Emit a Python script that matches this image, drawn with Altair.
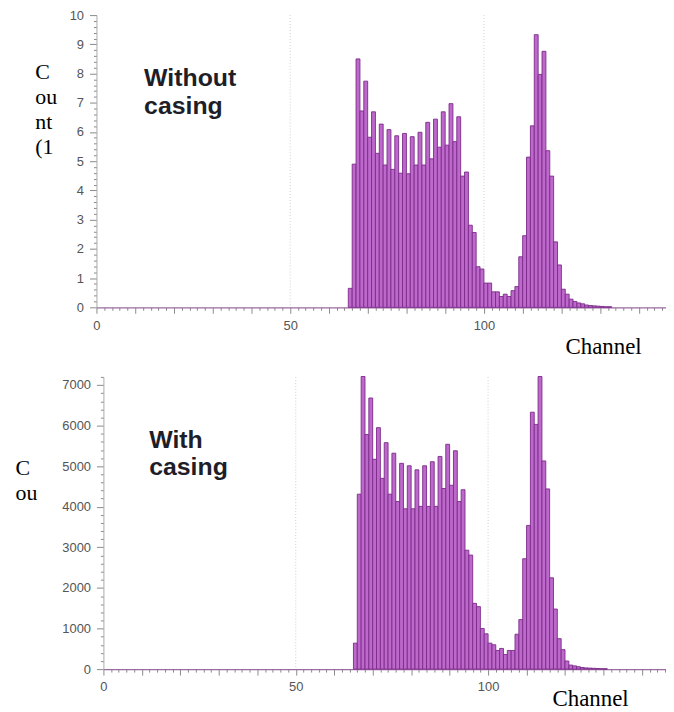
import altair as alt
import pandas as pd

# ---- data ----
top_start = 65
top_counts = [0.65, 4.9, 8.5, 6.72, 7.74, 5.82, 6.69, 5.27, 6.27, 4.87,
              6.08, 4.72, 5.87, 4.59, 5.95, 4.57, 5.84, 4.87, 5.99, 4.87,
              6.33, 5.08, 6.44, 5.48, 6.69, 5.55, 6.97, 5.67, 6.52, 4.49,
              4.63, 2.81, 2.56, 1.39, 1.31, 0.83, 0.83, 0.53, 0.53, 0.37,
              0.45, 0.37, 0.57, 0.71, 1.73, 2.45, 5.14, 6.21, 9.33, 7.97,
              8.76, 5.36, 4.49, 2.24, 1.45, 0.62, 0.45, 0.28, 0.2, 0.15,
              0.12, 0.08, 0.06, 0.05, 0.04, 0.03, 0.02, 0.02]

bottom_start = 65
bottom_counts = [640, 4310, 7210, 5780, 6680, 5170, 5950, 4700, 5580, 4310,
                 5320, 4130, 5070, 3950, 5010, 3950, 4910, 4010, 5010, 4010,
                 5110, 4010, 5240, 4450, 5540, 4530, 5380, 4130, 4420, 2930,
                 2810, 1620, 1540, 1000, 870, 640, 600, 460, 510, 360,
                 460, 460, 860, 1220, 2720, 3540, 6330, 6030, 7210, 5130,
                 4440, 2250, 1480, 750, 480, 200, 100, 80, 60, 40,
                 30, 25, 20, 15, 10, 10]

x_labels = [0, 50, 100]
grid_channels = [50, 100]
top_ylabel = ["C", "ou", "nt", "(1"]
bottom_ylabel = ["C", "ou"]
top_note = "Without\ncasing"
bottom_note = "With\ncasing"
xtitle = "Channel"

BAR_FILL = "#bd68cb"
BAR_STROKE = "#7c2a8a"
LABEL_FONT = "Liberation Sans"
SERIF = "Liberation Serif"


def panel(start, counts, ymax, ystep_minor, ymajor, ylabel_lines, ytitle_x,
          ytitle_y, note, note_x, note_y, xtitle_x, xtitle_y, shift, px_per_ch):
    df = pd.DataFrame({"channel": [start + i for i in range(len(counts))],
                       "count": counts})
    df["ch2"] = df["channel"] + 1
    width = 573
    height = 294
    xmax = (width - shift) / px_per_ch
    xscale = alt.Scale(domain=[0, xmax], range=[shift, width], nice=False, zero=False)
    yscale = alt.Scale(domain=[0, ymax], nice=False)
    n_minor = int(round(ymax / ystep_minor))
    yvals = [round(i * ystep_minor, 3) for i in range(n_minor + 1)]
    xvals = list(range(0, int(xmax) + 1, 2))
    is_major_y = f"abs(datum.value/{ymajor} - round(datum.value/{ymajor})) < 0.001"
    is_major_x = "datum.value % 10 === 0"
    lab_list = "[" + ",".join(str(v) for v in x_labels) + "]"

    x_axis = alt.Axis(
        values=xvals,
        labelExpr=f"indexof({lab_list}, datum.value) >= 0 ? format(datum.value, 'd') : ''",
        tickSize={"condition": {"test": is_major_x, "value": 6}, "value": 3},
        tickColor="#8a8a8a", domainColor="#9a6aa0", domainWidth=1.2,
        labelFont=LABEL_FONT, labelFontSize=13, labelColor="#555555",
        labelPadding=6, labelOverlap=False, labelFlush=False, grid=False,
        title=xtitle, titleFont=SERIF, titleFontSize=23, titleFontWeight="normal",
        titleColor="#000000", titleAlign="right", titleBaseline="alphabetic",
        titleX=xtitle_x, titleY=xtitle_y, titleAnchor="end",
    )
    y_axis = alt.Axis(
        values=yvals,
        labelExpr=f"{is_major_y} ? format(datum.value, 'd') : ''",
        tickSize={"condition": {"test": is_major_y, "value": 7}, "value": 3},
        tickColor="#8a8a8a", domainColor="#aaaaaa",
        labelFont=LABEL_FONT, labelFontSize=13, labelColor="#555555",
        labelPadding=6, labelOverlap=False, labelFlush=False, grid=False,
        labelBaseline="middle",
        offset=-shift,
        title=ylabel_lines, titleFont=SERIF, titleFontSize=22,
        titleFontWeight="normal", titleColor="#000000", titleAngle=0,
        titleAlign="left", titleBaseline="alphabetic", titleLineHeight=25,
        titleX=ytitle_x, titleY=ytitle_y,
    )

    bars = alt.Chart(df).mark_bar(
        fill=BAR_FILL, stroke=BAR_STROKE, strokeWidth=0.9
    ).encode(
        x=alt.X("channel:Q", scale=xscale, axis=x_axis),
        x2="ch2:Q",
        y=alt.Y("count:Q", scale=yscale, axis=y_axis),
        y2=alt.datum(0),
    )
    grid = alt.Chart(pd.DataFrame({"g": grid_channels})).mark_rule(
        color="#cfcfcf", strokeDash=[1, 2], strokeWidth=1
    ).encode(x=alt.X("g:Q", scale=xscale, axis=x_axis), y=alt.value(0), y2=alt.value(height))
    text = alt.Chart(pd.DataFrame({"x": [note_x], "y": [note_y], "t": [note]})).mark_text(
        align="left", baseline="alphabetic", font=LABEL_FONT, fontWeight="bold",
        fontSize=25, lineHeight=28, color="#1e1e28", lineBreak="\n"
    ).encode(x=alt.X("x:Q", scale=xscale, axis=x_axis),
             y=alt.Y("y:Q", scale=yscale, axis=y_axis), text="t:N")
    return alt.layer(grid, bars, text).properties(width=width, height=height)


top = panel(top_start, top_counts, 10, 0.2, 1, top_ylabel, -62, 64,
            top_note, 12.3, 7.58, 548, 46, 0, 3.898)
bottom = panel(bottom_start, bottom_counts, 7200, 200, 1000, bottom_ylabel, -89, 98,
               bottom_note, 11.9, 5458, 535, 37, 7, 3.87)

chart = alt.vconcat(top, bottom, spacing=13).properties(
    padding={"left": 7, "top": -1, "right": 0, "bottom": 0}
).configure_view(stroke=None)

chart.save("out.html", embed_options={"renderer": "svg", "actions": False})
